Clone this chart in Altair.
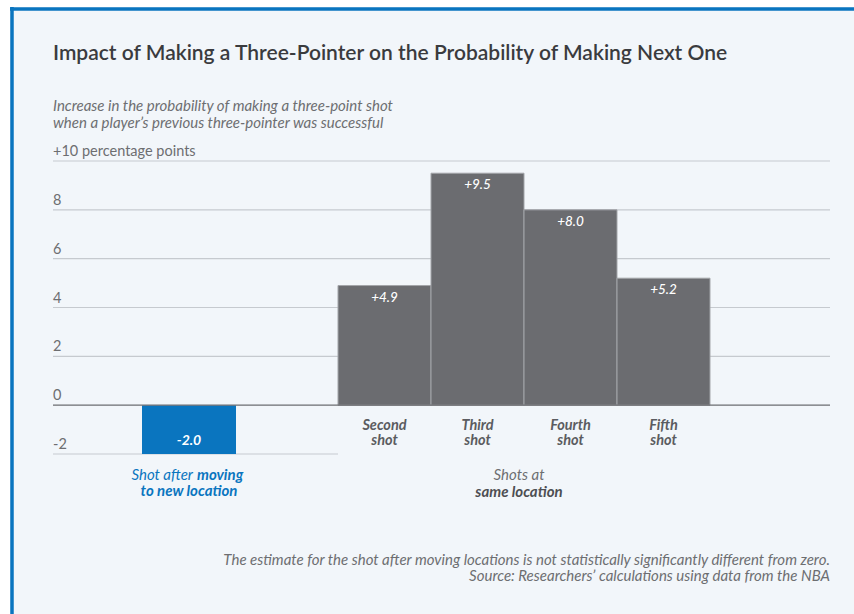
import altair as alt
import pandas as pd

# ---------------- data ----------------
TITLE = "Impact of Making a Three-Pointer on the Probability of Making Next One"
SUBTITLE = ["Increase in the probability of making a three-point shot",
            "when a player\u2019s previous three-pointer was successful"]
NOTES = ["The estimate for the shot after moving locations is not statistically significantly different from zero.",
         "Source: Researchers\u2019 calculations using data from the NBA"]

move_cats = ["Shot after moving to new location"]
move_vals = [-2.0]
move_text = ["Shot after", "moving", "to new location"]

same_cats = ["Second shot", "Third shot", "Fourth shot", "Fifth shot"]
same_vals = [4.9, 9.5, 8.0, 5.2]
same_text = ["Shots at", "same location"]

y_ticks = [10, 8, 6, 4, 2, 0, -2]
y_tick_labels = ["+10 percentage points", "8", "6", "4", "2", "0", "-2"]

# ---------------- style ----------------
FONT = "Lato"
W, H = 777, 293
PANEL = "#f2f6fa"
BLUE = "#0a75bf"
GRAY = "#6b6c70"
GRID = "#c6cacf"
TXT = "#6d6e71"
DARK = "#3a3b3e"

one = pd.DataFrame({"k": [0]})
yscale = alt.Scale(domain=[-2, 10], nice=False)

# background panel + border
bg = alt.Chart(one).mark_rect(fill=PANEL).encode(
    x=alt.value(-43), x2=alt.value(801), y=alt.value(-154), y2=alt.value(453))
border_l = alt.Chart(one).mark_rule(color=BLUE, strokeWidth=3.5).encode(
    x=alt.value(-41), y=alt.value(-154), y2=alt.value(453))
border_t = alt.Chart(one).mark_rule(color=BLUE, strokeWidth=3.5).encode(
    x=alt.value(-43), x2=alt.value(801), y=alt.value(-152))

# grid
tick_df = pd.DataFrame({"value": y_ticks, "label": y_tick_labels})
grid_light = alt.Chart(tick_df[tick_df["value"] > 0]).mark_rule(color=GRID, strokeWidth=1.2).encode(
    y=alt.Y("value:Q", scale=yscale, axis=None), x=alt.value(0), x2=alt.value(W))
grid_zero = alt.Chart(tick_df[tick_df["value"] == 0]).mark_rule(color=GRAY, strokeWidth=1.3).encode(
    y=alt.Y("value:Q", scale=yscale, axis=None), x=alt.value(0), x2=alt.value(W))
grid_low = alt.Chart(tick_df[tick_df["value"] < 0]).mark_rule(color=GRID, strokeWidth=1.2).encode(
    y=alt.Y("value:Q", scale=yscale, axis=None), x=alt.value(0), x2=alt.value(285))
tick_text = alt.Chart(tick_df).mark_text(
    align="left", baseline="alphabetic", dy=-5, fontSize=14.5, color=TXT, font=FONT).encode(
    y=alt.Y("value:Q", scale=yscale, axis=None), x=alt.value(0), text="label:N")

# titles
title = alt.Chart(one).mark_text(
    align="left", baseline="alphabetic", fontSize=21, fontWeight=600, color=DARK, font=FONT, text=TITLE
).encode(x=alt.value(0), y=alt.value(-101))
sub_layers = [
    alt.Chart(one).mark_text(
        align="left", baseline="alphabetic", fontSize=15, fontStyle="italic", color=TXT, font=FONT, text=t
    ).encode(x=alt.value(0), y=alt.value(yy))
    for t, yy in zip(SUBTITLE, [-50, -33])
]
note_layers = [
    alt.Chart(one).mark_text(
        align="right", baseline="alphabetic", fontSize=15, fontStyle="italic", color=TXT, font=FONT, text=t
    ).encode(x=alt.value(W), y=alt.value(yy))
    for t, yy in zip(NOTES, [404, 420])
]

# blue group
blue_df = pd.DataFrame({"cat": move_cats, "value": move_vals,
                        "label": [f"{v:.1f}" for v in move_vals]})
xb_scale = alt.Scale(domain=move_cats, paddingInner=0, paddingOuter=0, range=[89, 183])
xb = alt.X("cat:N", scale=xb_scale, axis=None)
blue_bar = alt.Chart(blue_df).mark_bar(color=BLUE).encode(
    x=xb, y=alt.Y("value:Q", scale=yscale, axis=None))
blue_label = alt.Chart(blue_df).mark_text(
    color="white", fontStyle="italic", fontWeight="bold", fontSize=14, baseline="middle", dy=-13, font=FONT
).encode(x=xb, y=alt.Y("value:Q", scale=yscale, axis=None), text="label:N")
blue_t1a = alt.Chart(blue_df).mark_text(
    align="right", dx=4, fontStyle="italic", fontSize=15, color=BLUE, font=FONT, text=move_text[0]
).encode(x=xb, y=alt.value(314))
blue_t1b = alt.Chart(blue_df).mark_text(
    align="left", dx=8, fontStyle="italic", fontWeight="bold", fontSize=15, color=BLUE, font=FONT, text=move_text[1]
).encode(x=xb, y=alt.value(314))
blue_t2 = alt.Chart(blue_df).mark_text(
    align="center", fontStyle="italic", fontWeight="bold", fontSize=15, color=BLUE, font=FONT, text=move_text[2]
).encode(x=xb, y=alt.value(330))
blue_layer = alt.layer(blue_bar, blue_label, blue_t1a, blue_t1b, blue_t2)

# gray group
gray_df = pd.DataFrame({"cat": same_cats, "value": same_vals,
                        "label": [f"+{v:.1f}" for v in same_vals],
                        "line1": [c.split(" ")[0] for c in same_cats],
                        "line2": [c.split(" ")[1] for c in same_cats]})
xg_scale = alt.Scale(domain=same_cats, paddingInner=0, paddingOuter=0, range=[285, 657])
xg = alt.X("cat:N", scale=xg_scale, axis=None)
gray_bar = alt.Chart(gray_df).mark_bar(color=GRAY, stroke="#a3a5a9", strokeWidth=1).encode(
    x=xg, y=alt.Y("value:Q", scale=yscale, axis=None))
gray_label = alt.Chart(gray_df).mark_text(
    color="white", fontStyle="italic", fontWeight=500, fontSize=13.5, baseline="middle", dy=12, font=FONT
).encode(x=xg, y=alt.Y("value:Q", scale=yscale, axis=None), text="label:N")
name_style = dict(color="#5b5c60", fontStyle="italic", fontWeight="bold", fontSize=14.5,
                  baseline="alphabetic", font=FONT)
gray_names1 = alt.Chart(gray_df).mark_text(**name_style).encode(
    x=xg, y=alt.value(269), text="line1:N")
gray_names2 = alt.Chart(gray_df).mark_text(**name_style).encode(
    x=xg, y=alt.value(284), text="line2:N")
grp_df = pd.DataFrame({"cat": [same_cats[1]]})
xg_edge = alt.X("cat:N", scale=xg_scale, axis=None, bandPosition=1)
grp1 = alt.Chart(grp_df).mark_text(
    align="center", dx=-5, fontStyle="italic", fontSize=15, color=TXT, font=FONT, text=same_text[0]
).encode(x=xg_edge, y=alt.value(314))
grp2 = alt.Chart(grp_df).mark_text(
    align="center", dx=-5, fontStyle="italic", fontWeight="bold", fontSize=15, color="#4d4e52", font=FONT,
    text=same_text[1]
).encode(x=xg_edge, y=alt.value(331))
gray_layer = alt.layer(gray_bar, gray_label, gray_names1, gray_names2, grp1, grp2)

chart = alt.layer(
    bg, border_l, border_t, grid_light, grid_low, tick_text,
    title, *sub_layers, *note_layers, blue_layer, gray_layer, grid_zero
).resolve_scale(x="independent", y="shared").properties(
    width=W, height=H,
    autosize=alt.AutoSizeParams(type="none"),
    padding={"left": 53, "top": 161, "right": 24, "bottom": 160},
    background="white",
).configure_view(stroke=None)

chart.save("out.html", embed_options={"renderer": "svg", "actions": False})
